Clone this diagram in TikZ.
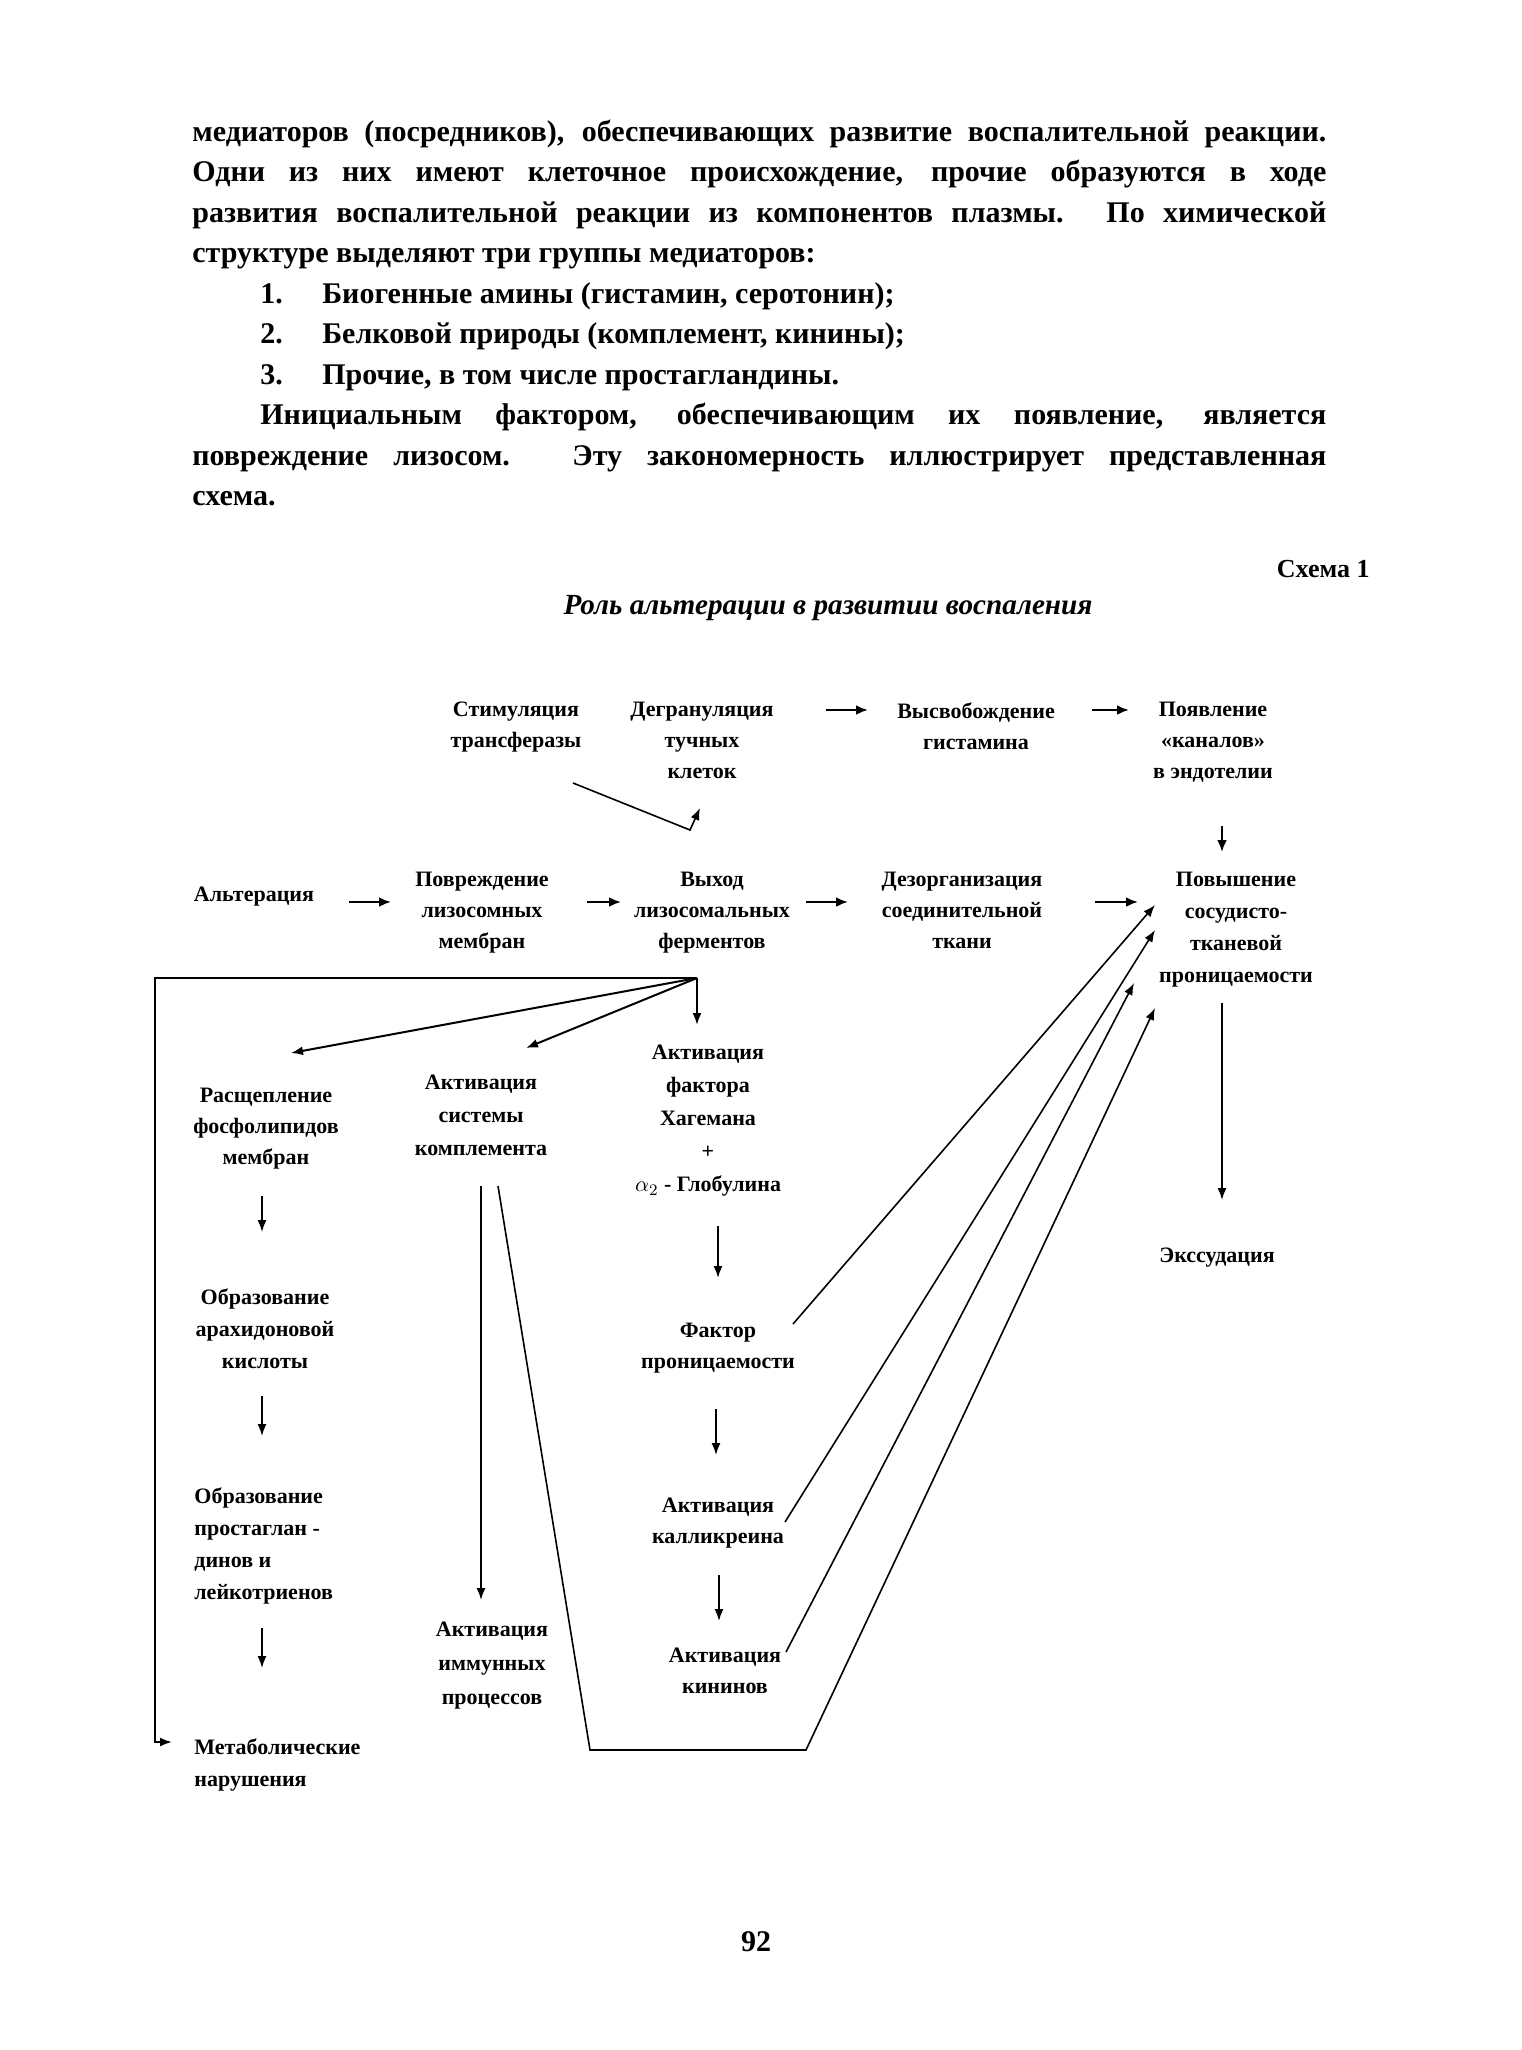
\documentclass[tikz,border=0pt]{standalone}
\usepackage{graphicx}
\usepackage{fontspec}
\setmainfont{Liberation Serif}
\usetikzlibrary{arrows.meta}
\newcommand{\myjust}[2]{\setbox0=\hbox{#2}\ifdim\wd0>#1\relax\resizebox{#1}{\height}{#2}\else\makebox[#1][s]{#2}\fi}
\begin{document}
\begin{tikzpicture}[x=0.5pt,y=-0.5pt,
  body/.style={font=\bfseries\fontsize{15}{20}\selectfont, inner sep=0pt, anchor=base west},
  lbl/.style={font=\bfseries\fontsize{11}{15.5}\selectfont, align=center, inner sep=0pt, anchor=north},
  lbll/.style={font=\bfseries\fontsize{11}{16}\selectfont, align=left, inner sep=0pt, anchor=north west},
  arr/.style={line width=1.3pt, -{Latex[length=6pt,width=5pt]}},
  varr/.style={line width=0.8pt, -{Latex[length=6pt,width=4.5pt]}},
  darr/.style={line width=0.8pt, -{Latex[length=6pt,width=4.5pt]}},
  ln/.style={line width=0.8pt}
]
\fill[white] (0,0) rectangle (1521,2050);
\useasboundingbox (0,0) rectangle (1521,2050);

% body text
\node[body] (p1) at (192,141) {\myjust{567pt}{медиаторов (посредников), обеспечивающих развитие воспалительной реакции.}};
\node[body] (p2) at (192,181.5) {\myjust{567pt}{Одни из них имеют клеточное происхождение, прочие образуются в ходе}};
\node[body] (p3) at (192,222) {\myjust{567pt}{развития воспалительной реакции из компонентов плазмы. По химической}};
\node[body] (p4) at (192,262.5) {структуре выделяют три группы медиаторов:};
\node[body] (n1) at (260,303) {1.};
\node[body] (i1) at (322,303) {Биогенные амины (гистамин, серотонин);};
\node[body] (n2) at (260,343.5) {2.};
\node[body] (i2) at (322,343.5) {Белковой природы (комплемент, кинины);};
\node[body] (n3) at (260,384) {3.};
\node[body] (i3) at (322,384) {Прочие, в том числе простагландины.};
\node[body] (p5) at (260,424.5) {\myjust{533pt}{Инициальным фактором, обеспечивающим их появление, является}};
\node[body] (p6) at (192,465) {\myjust{567pt}{повреждение лизосом. Эту закономерность иллюстрирует представленная}};
\node[body] (p7) at (192,505.5) {схема.};

\node[font=\bfseries\fontsize{13}{15}\selectfont, inner sep=0pt, anchor=base east] (sch) at (1370,577) {Схема 1};
\node[font=\bfseries\itshape\fontsize{14.6}{16}\selectfont, inner sep=0pt, anchor=base] (title) at (828,614) {Роль альтерации в развитии воспаления};

% diagram nodes
\node[lbl] (stim) at (516,702) {Стимуляция\\трансферазы};
\node[lbl] (degr) at (702,702) {Дегрануляция\\тучных\\клеток};
\node[lbl] (vysv) at (976,702) {Высвобождение\\гистамина};
\node[lbl] (poyav) at (1213,702) {Появление\\«каналов»\\в эндотелии};

\node[lbl] (alt) at (254,887) {Альтерация};
\node[lbl] (povr) at (482,872) {Повреждение\\лизосомных\\мембран};
\node[lbl] (vyh) at (712,872) {Выход\\лизосомальных\\ферментов};
\node[lbl] (dez) at (962,872) {Дезорганизация\\соединительной\\ткани};
\node[lbl, font=\bfseries\fontsize{11}{16}\selectfont] (pov) at (1236,872) {Повышение\\сосудисто-\\тканевой\\проницаемости};

\node[lbl] (rasch) at (266,1088) {Расщепление\\фосфолипидов\\мембран};
\node[lbl, font=\bfseries\fontsize{11}{16.5}\selectfont] (aks) at (481,1075) {Активация\\системы\\комплемента};
\node[lbl, font=\bfseries\fontsize{11}{16.5}\selectfont] (akf) at (708,1045) {Активация\\фактора\\Хагемана\\+\\$\alpha_2$ - Глобулина};
\node[lbl] (fp) at (718,1323) {Фактор\\проницаемости};
\node[lbl] (kal) at (718,1498) {Активация\\калликреина};
\node[lbl] (kin) at (725,1648) {Активация\\кининов};
\node[lbl, font=\bfseries\fontsize{11}{16}\selectfont] (obr1) at (265,1288) {Образование\\арахидоновой\\кислоты};
\node[lbll] (obr2) at (194,1487) {Образование\\простаглан -\\динов и\\лейкотриенов};
\node[lbll] (metab) at (194,1738) {Метаболические\\нарушения};
\node[lbl, font=\bfseries\fontsize{11}{17}\selectfont] (imm) at (492,1622) {Активация\\иммунных\\процессов};
\node[lbl] (exs) at (1217,1248) {Экссудация};

\node[font=\bfseries\fontsize{15}{18}\selectfont, inner sep=0pt, anchor=base] (pg) at (756,1951) {92};

% top row connectors
\draw[arr] ([shift={(124,8)}]degr.north) -- ([shift={(-108,8)}]vysv.north);
\draw[arr] ([shift={(116,8)}]vysv.north) -- ([shift={(-84,8)}]poyav.north);
\draw[darr] ([shift={(57,81)}]stim.north) -- ([shift={(-12,128)}]degr.north) -- ([shift={(-2,106)}]degr.north);
\draw[arr] ([shift={(9,124)}]poyav.north) -- ([shift={(-14,-20)}]pov.north);

% main row
\draw[arr] ([shift={(95,15)}]alt.north) -- ([shift={(-91,30)}]povr.north);
\draw[arr] ([shift={(105,30)}]povr.north) -- ([shift={(-91,30)}]vyh.north);
\draw[arr] ([shift={(94,30)}]vyh.north) -- ([shift={(-114,30)}]dez.north);
\draw[arr] ([shift={(133,30)}]dez.north) -- ([shift={(-98,30)}]pov.north);

% branching from lysosomal enzymes
\coordinate (J) at ([shift={(-15,106)}]vyh.north);
\draw[darr, line width=1pt] (J) -- ([shift={(25,-35)}]rasch.north);
\draw[darr, line width=1pt] (J) -- ([shift={(45,-27)}]aks.north);
\draw[darr, line width=1pt] (J) -- ([shift={(-11,-20)}]akf.north);
\draw[darr, line width=1pt] (J) -- ++(-542,0) |- ([shift={(-22,4)}]metab.north west);

% left column
\draw[varr] ([shift={(-4,108)}]rasch.north) -- ([shift={(-3,-56)}]obr1.north);
\draw[varr] ([shift={(-3,108)}]obr1.north) -- ([shift={(68,-51)}]obr2.north west);
\draw[varr] ([shift={(68,141)}]obr2.north west) -- ([shift={(68,-70)}]metab.north west);

% complement
\draw[varr] ([shift={(0,111)}]aks.north) -- ([shift={(-11,-22)}]imm.north);
\draw[darr] ([shift={(17,111)}]aks.north) -- ([shift={(109,675)}]aks.north) -- ([shift={(325,675)}]aks.north) -- ([shift={(-81,136)}]pov.north);

% Hageman column
\draw[varr] ([shift={(10,181)}]akf.north) -- ([shift={(0,-45)}]fp.north);
\draw[varr] ([shift={(-2,86)}]fp.north) -- ([shift={(-2,-43)}]kal.north);
\draw[varr] ([shift={(1,77)}]kal.north) -- ([shift={(-6,-27)}]kin.north);
\draw[darr] ([shift={(75,1)}]fp.north) -- ([shift={(-81,33)}]pov.north);
\draw[darr] ([shift={(67,24)}]kal.north) -- ([shift={(-81,58)}]pov.north);
\draw[darr] ([shift={(61,4)}]kin.north) -- ([shift={(-102,111)}]pov.north);

% exudation
\draw[varr] ([shift={(-14,131)}]pov.north) -- ([shift={(5,-48)}]exs.north);
\end{tikzpicture}
\end{document}
